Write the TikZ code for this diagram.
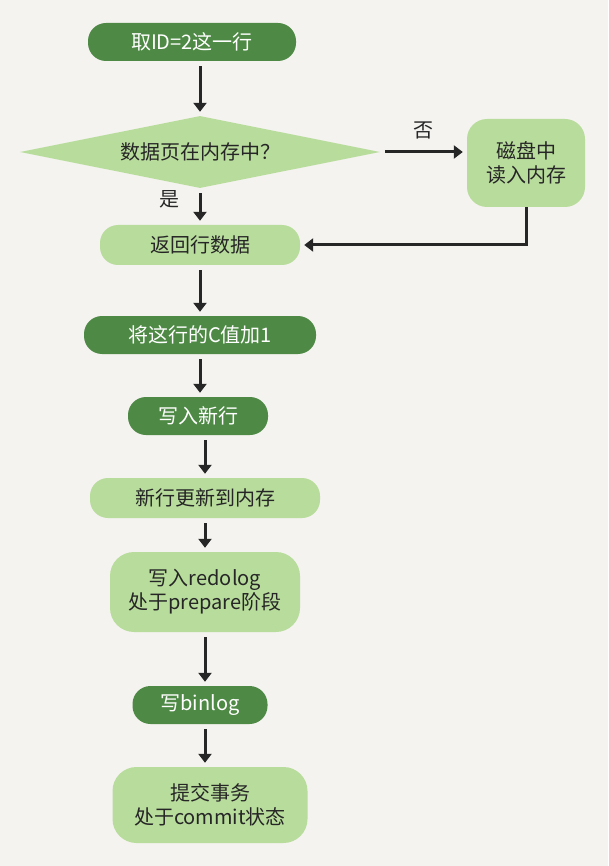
\documentclass[tikz,border=0pt]{standalone}
\usepackage{fontspec}
\setmainfont{Noto Sans CJK SC}
\usetikzlibrary{shapes.geometric,arrows.meta}
\definecolor{bg}{HTML}{F4F3EF}
\definecolor{dk}{HTML}{4E8A45}
\definecolor{lt}{HTML}{B8DC9C}
\tikzset{x=1pt,y=-1pt,
 dbox/.style={rounded corners=18pt,fill=dk,text=white,font=\fontsize{20}{24}\selectfont,minimum height=38pt,align=center},
 lbox/.style={rounded corners=18pt,fill=lt,text=black!85,font=\fontsize{20}{24}\selectfont,minimum height=40pt,align=center},
 arr/.style={line width=3pt,-{Triangle[length=9pt,width=13pt]},black!85,shorten <=5pt,shorten >=4pt},
 lbl/.style={font=\fontsize{20}{22}\selectfont,text=black!85}}
\begin{document}
\begin{tikzpicture}
\fill[bg] (0,0) rectangle (608,866);
\useasboundingbox (0,0) rectangle (608,866);
\node[dbox,minimum width=208pt] (n1) at (192,42) {取ID=2这一行};
\node[diamond,aspect=5.2,fill=lt,inner sep=1pt,minimum width=360pt,minimum height=72pt,font=\fontsize{20}{22}\selectfont,text=black!85] (n2) at (200,152) {数据页在内存中？};
\node[lbox,rounded corners=20pt,minimum width=118pt,minimum height=88pt] (n3) at (526,163) {磁盘中\\读入内存};
\node[lbox,minimum width=200pt] (n4) at (200,245) {返回行数据};
\node[dbox,minimum width=232pt] (n5) at (200,335) {将这行的C值加1};
\node[dbox,minimum width=140pt] (n6) at (198,416) {写入新行};
\node[lbox,minimum width=230pt] (n7) at (205,498) {新行更新到内存};
\node[lbox,rounded corners=24pt,minimum width=190pt,minimum height=80pt] (n8) at (205,592) {写入redolog\\处于prepare阶段};
\node[dbox,minimum width=135pt] (n9) at (200,705) {写binlog};
\node[lbox,rounded corners=24pt,minimum width=195pt,minimum height=76pt] (n10) at (210,805) {提交事务\\处于commit状态};
\coordinate (a1) at (200,0);
\draw[arr] (n1.south -| a1) -- (n2.north -| a1);
\draw[arr] (n2.south) -- node[lbl,left=16pt,pos=0.3]{是} (n4.north);
\draw[arr] (n2.east) -- node[lbl,above=8pt]{否} (n3.west |- n2.east);
\coordinate (c1) at (n3.south |- n4.east);
\draw[arr,shorten <=0pt] (n3.south) -- (c1) -- (n4.east);
\draw[arr] (n4.south) -- (n4.south |- n5.north);
\draw[arr] (n5.south) -- (n5.south |- n6.north);
\draw[arr] (n7.north |- n6.south) -- (n7.north);
\draw[arr] (n7.south) -- (n8.north);
\draw[arr] (n8.south) -- (n8.south |- n9.north);
\draw[arr] (n8.south |- n9.south) -- (n8.south |- n10.north);
\end{tikzpicture}
\end{document}
